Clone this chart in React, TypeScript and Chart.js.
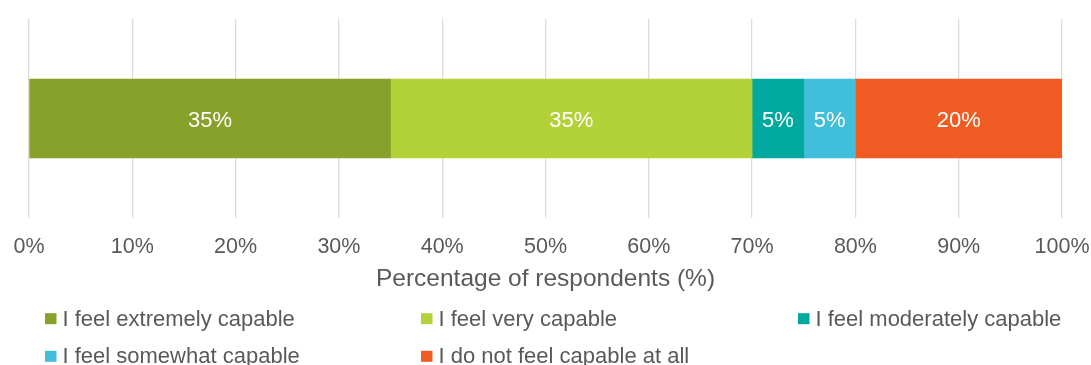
import React, { useEffect, useRef } from "react";
import { Chart, registerables } from "chart.js";

Chart.register(...registerables);

const categories = ["Respondents"];
const seriesLabels = [
  "I feel extremely capable",
  "I feel very capable",
  "I feel moderately capable",
  "I feel somewhat capable",
  "I do not feel capable at all",
];
const extremelyCapable = [35];
const veryCapable = [35];
const moderatelyCapable = [5];
const somewhatCapable = [5];
const notCapable = [20];
const seriesColors = ["#87A12A", "#B3D23A", "#00A99D", "#42BEDD", "#F05A23"];
const xTicks = [0, 10, 20, 30, 40, 50, 60, 70, 80, 90, 100];
const axisTitle = "Percentage of respondents (%)";

const FONT = "'Liberation Sans', Arial, sans-serif";
const TEXT = "#595959";

const barLabelsPlugin = {
  id: "barLabels",
  afterDatasetsDraw(chart: any) {
    const ctx = chart.ctx;
    ctx.save();
    ctx.fillStyle = "#ffffff";
    ctx.font = `22px ${FONT}`;
    ctx.textAlign = "center";
    ctx.textBaseline = "alphabetic";
    chart.data.datasets.forEach((ds: any, i: number) => {
      const meta = chart.getDatasetMeta(i);
      meta.data.forEach((el: any, j: number) => {
        const v = ds.data[j];
        const { x, y, base } = el.getProps(["x", "y", "base"], true);
        ctx.fillText(`${v}%`, (x + base) / 2, y + 8.5);
      });
    });
    ctx.restore();
  },
};

const gridLegendPlugin = {
  id: "gridLegend",
  afterDraw(chart: any) {
    const ctx = chart.ctx;
    const cols = [45, 421, 798];
    const rows = [318.7, 356.3];
    ctx.save();
    ctx.font = `22px ${FONT}`;
    ctx.textBaseline = "alphabetic";
    ctx.textAlign = "left";
    chart.data.datasets.forEach((ds: any, i: number) => {
      const cx = cols[i % 3];
      const cy = rows[Math.floor(i / 3)];
      ctx.fillStyle = ds.backgroundColor;
      ctx.fillRect(cx, cy - 5.5, 11.5, 11);
      ctx.fillStyle = TEXT;
      ctx.fillText(ds.label, cx + 17.5, cy + 6.8);
    });
    ctx.restore();
  },
};

export default function App() {
  const ref = useRef<HTMLCanvasElement>(null);
  useEffect(() => {
    if (!ref.current) return;
    const values = [extremelyCapable, veryCapable, moderatelyCapable, somewhatCapable, notCapable];
    const chart = new Chart(ref.current, {
      type: "bar",
      data: {
        labels: categories,
        datasets: values.map((d, i) => ({
          label: seriesLabels[i],
          data: d,
          backgroundColor: seriesColors[i],
          borderWidth: 0,
          barThickness: 79,
        })),
      },
      options: {
        indexAxis: "y",
        responsive: false,
        animation: false,
        layout: { padding: { left: 29, right: 29, top: 19, bottom: 69 } },
        plugins: { legend: { display: false }, tooltip: { enabled: false } },
        scales: {
          x: {
            stacked: true,
            min: 0,
            max: 100,
            afterBuildTicks: (scale: any) => {
              scale.ticks = xTicks.map((v) => ({ value: v }));
            },
            afterFit: (scale: any) => {
              scale.height = 78;
            },
            ticks: {
              padding: 0,
              color: TEXT,
              font: { size: 21.5, family: FONT },
              callback: (v: any) => `${v}%`,
              maxRotation: 0,
              autoSkip: false,
            },
            grid: {
              color: "#DCDCDC",
              lineWidth: 1.3,
              drawTicks: true,
              tickLength: 16,
              tickColor: "rgba(0,0,0,0)",
            },
            border: { display: false },
            title: {
              display: true,
              text: axisTitle,
              color: TEXT,
              font: { size: 24.5, family: FONT },
              padding: { top: 0, bottom: 2.5 },
            },
          },
          y: {
            stacked: true,
            display: false,
          },
        },
      },
      plugins: [barLabelsPlugin, gridLegendPlugin],
    });
    return () => chart.destroy();
  }, []);
  return (
    <div style={{ position: "absolute", left: 0, top: 0, width: 1091, height: 365, background: "#fff" }}>
      <canvas ref={ref} width={1091} height={365} />
    </div>
  );
}
